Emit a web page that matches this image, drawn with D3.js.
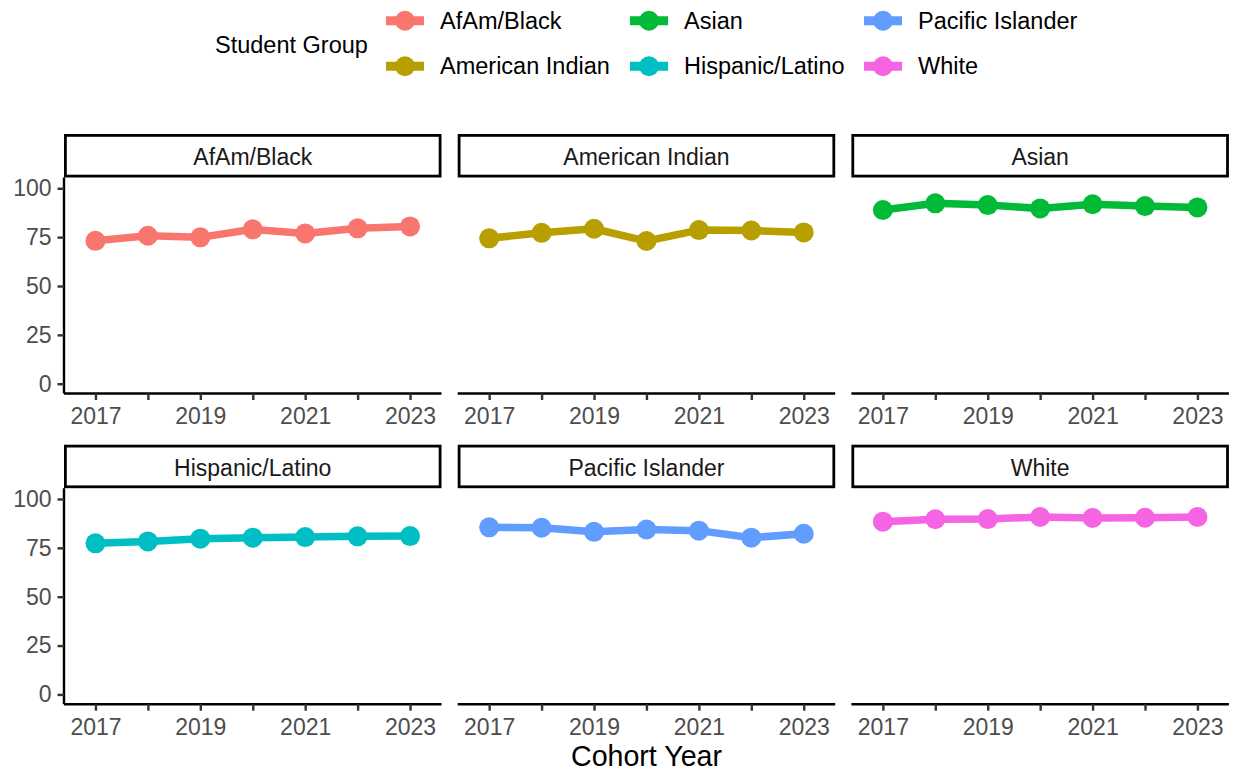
<!DOCTYPE html>
<html>
<head>
<meta charset="utf-8">
<script src="https://cdn.jsdelivr.net/npm/d3@7"></script>
<style>
  body { margin: 0; background: #fff; }
  svg { display: block; font-family: "Liberation Sans", Arial, sans-serif; }
</style>
</head>
<body>
<svg id="chart" width="1236" height="774"></svg>
<script>
// data
var years = [2017, 2018, 2019, 2020, 2021, 2022, 2023];
var groups = ["AfAm/Black", "American Indian", "Asian", "Hispanic/Latino", "Pacific Islander", "White"];
var colors = ["#F8766D", "#B79F00", "#00BA38", "#00BFC4", "#619CFF", "#F564E3"];
var afamBlack = [73.1, 75.7, 74.9, 79.0, 76.9, 79.5, 80.5];
var americanIndian = [74.4, 77.2, 79.3, 73.0, 78.6, 78.4, 77.4];
var asian = [88.9, 92.3, 91.4, 89.7, 91.8, 90.9, 90.2];
var hispanicLatino = [77.3, 78.3, 79.7, 80.2, 80.5, 80.9, 81.0];
var pacificIslander = [85.5, 85.3, 83.2, 84.4, 83.8, 80.2, 82.2];
var white = [88.4, 89.6, 89.7, 90.8, 90.3, 90.4, 90.8];
var seriesValues = [afamBlack, americanIndian, asian, hispanicLatino, pacificIslander, white];
var xTickLabels = [2017, 2019, 2021, 2023];
var yTicks = [0, 25, 50, 75, 100];

var svg = d3.select("#chart");

var panelW = 377.5,
    panelGap = 393.7,
    firstLeft = 64,
    rowTops = [134, 444.7],   // strip tops
    stripH = 43.5,
    plotH = 216;

// legend
var legend = svg.append("g").attr("class", "legend");
legend.append("text")
    .attr("x", 215).attr("y", 45)
    .attr("dy", "0.35em")
    .attr("font-size", 23.5)
    .attr("fill", "#000")
    .text("Student Group");

var legendCols = [405, 649, 883],
    legendRows = [20.7, 66.2];

groups.forEach(function(g, i) {
  var cx = legendCols[Math.floor(i / 2)],
      cy = legendRows[i % 2];
  var key = legend.append("g").attr("transform", "translate(" + cx + "," + cy + ")");
  key.append("line")
      .attr("x1", -19).attr("x2", 19)
      .attr("stroke", colors[i])
      .attr("stroke-width", 9);
  key.append("circle")
      .attr("r", 10)
      .attr("fill", colors[i]);
  legend.append("text")
      .attr("x", cx + 35).attr("y", cy)
      .attr("dy", "0.35em")
      .attr("font-size", 23.5)
      .attr("fill", "#000")
      .text(g);
});

// panels
groups.forEach(function(g, i) {
  var col = i % 3,
      row = Math.floor(i / 3);
  var left = firstLeft + col * panelGap,
      stripTop = rowTops[row],
      plotTop = stripTop + stripH,
      plotBottom = plotTop + plotH;

  var x = d3.scaleLinear().domain([2016.4, 2023.6]).range([left, left + panelW]);
  var y = d3.scaleLinear().domain([-5, 105]).range([plotBottom, plotTop + 1]);

  var panel = svg.append("g").attr("class", "panel");

  // x axis
  var xAxis = panel.append("g")
      .attr("transform", "translate(0," + plotBottom + ")")
      .call(d3.axisBottom(x)
        .tickValues(years)
        .tickSize(6.5)
        .tickPadding(8)
        .tickFormat(function(d) { return xTickLabels.indexOf(d) >= 0 ? d : ""; }));
  xAxis.select(".domain").attr("stroke", "#000").attr("stroke-width", 2.4)
      .attr("d", "M" + left + ",0H" + (left + panelW));
  xAxis.selectAll(".tick line").attr("stroke", "#333").attr("stroke-width", 2.4);
  xAxis.selectAll(".tick text").attr("fill", "#4D4D4D").attr("font-size", 23)
      .attr("font-family", "Liberation Sans, Arial, sans-serif");

  // y axis only on first column
  if (col === 0) {
    var yAxis = panel.append("g")
        .attr("transform", "translate(" + left + ",0)")
        .call(d3.axisLeft(y).tickValues(yTicks).tickSize(6.5).tickPadding(6));
    yAxis.select(".domain").attr("stroke", "#000").attr("stroke-width", 2.4)
        .attr("d", "M0," + plotTop + "V" + plotBottom);
    yAxis.selectAll(".tick line").attr("stroke", "#333").attr("stroke-width", 2.4);
    yAxis.selectAll(".tick text").attr("fill", "#4D4D4D").attr("font-size", 23)
        .attr("font-family", "Liberation Sans, Arial, sans-serif");
  }

  // strip
  panel.append("rect")
      .attr("x", left + 1.4).attr("y", stripTop + 1.4)
      .attr("width", panelW - 2.8).attr("height", stripH - 2.8)
      .attr("fill", "#fff")
      .attr("stroke", "#000")
      .attr("stroke-width", 2.8);
  panel.append("text")
      .attr("x", left + panelW / 2).attr("y", stripTop + stripH / 2 + 1)
      .attr("dy", "0.35em")
      .attr("text-anchor", "middle")
      .attr("font-size", 23)
      .attr("fill", "#1A1A1A")
      .text(g);

  var pts = years.map(function(yr, j) { return [yr, seriesValues[i][j]]; });

  panel.append("path")
      .datum(pts)
      .attr("fill", "none")
      .attr("stroke", colors[i])
      .attr("stroke-width", 7.5)
      .attr("stroke-linejoin", "round")
      .attr("d", d3.line()
        .x(function(d) { return x(d[0]); })
        .y(function(d) { return y(d[1]); }));

  panel.selectAll("circle.pt")
      .data(pts)
      .enter()
      .append("circle")
      .attr("class", "pt")
      .attr("cx", function(d) { return x(d[0]); })
      .attr("cy", function(d) { return y(d[1]); })
      .attr("r", 10)
      .attr("fill", colors[i]);
});

// axis title
svg.append("text")
    .attr("x", 646.5).attr("y", 766)
    .attr("text-anchor", "middle")
    .attr("font-size", 28.6)
    .attr("fill", "#000")
    .text("Cohort Year");
</script>
</body>
</html>
